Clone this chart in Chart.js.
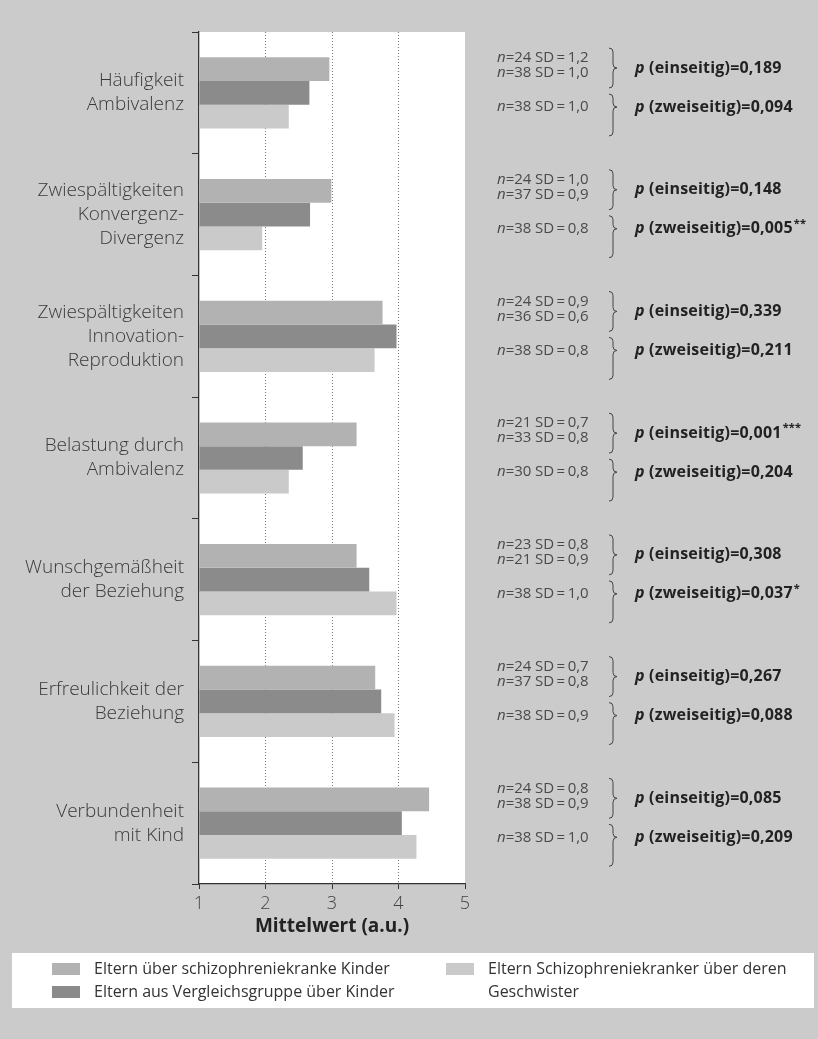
<!DOCTYPE html>
<html lang="de">
<head>
<meta charset="utf-8">
<title>Ambivalenz – Mittelwerte</title>
<script src="https://cdn.jsdelivr.net/npm/chart.js@4.4.1/dist/chart.umd.min.js"></script>
<style>
  html, body { margin: 0; padding: 0; background: #cbcbcb; }
</style>
</head>
<body>
<canvas id="chart" width="818" height="1039"></canvas>
<script>
// Kategorien (mehrzeilige Achsenbeschriftung)
const categories = [
  ['Häufigkeit', 'Ambivalenz'],
  ['Zwiespältigkeiten', 'Konvergenz-', 'Divergenz'],
  ['Zwiespältigkeiten', 'Innovation-', 'Reproduktion'],
  ['Belastung durch', 'Ambivalenz'],
  ['Wunschgemäßheit', 'der Beziehung'],
  ['Erfreulichkeit der', 'Beziehung'],
  ['Verbundenheit', 'mit Kind']
];

// Mittelwerte je Gruppe
const elternKinder = [2.96, 2.99, 3.76, 3.37, 3.37, 3.65, 4.46];
const vergleichKinder = [2.66, 2.67, 3.97, 2.56, 3.56, 3.74, 4.05];
const elternGeschwister = [2.35, 1.95, 3.64, 2.35, 3.97, 3.94, 4.27];

const xTicks = [1, 2, 3, 4, 5];

// n und SD je Gruppe
const nKinder = [24, 24, 24, 21, 23, 24, 24];
const sdKinder = ['1,2', '1,0', '0,9', '0,7', '0,8', '0,7', '0,8'];
const nVergleich = [38, 37, 36, 33, 21, 37, 38];
const sdVergleich = ['1,0', '0,9', '0,6', '0,8', '0,9', '0,8', '0,9'];
const nGeschwister = [38, 38, 38, 30, 38, 38, 38];
const sdGeschwister = ['1,0', '0,8', '0,8', '0,8', '1,0', '0,9', '1,0'];

// p-Werte
const pEinseitig = ['0,189', '0,148', '0,339', '0,001', '0,308', '0,267', '0,085'];
const starsEinseitig = ['', '', '', '***', '', '', ''];
const pZweiseitig = ['0,094', '0,005', '0,211', '0,204', '0,037', '0,088', '0,209'];
const starsZweiseitig = ['', '**', '', '', '*', '', ''];

const seriesNames = [
  'Eltern über schizophreniekranke Kinder',
  'Eltern aus Vergleichsgruppe über Kinder',
  'Eltern Schizophreniekranker über deren Geschwister'
];

const pageGray = '#cbcbcb';
const colors = ['#b2b2b2', '#8b8b8b', '#cacaca'];
const FONT = '"Open Sans", "DejaVu Sans", sans-serif';
const THIN = '\u2009';

function brace(ctx, x, top, tip, bottom) {
  const r = 4;
  ctx.beginPath();
  ctx.moveTo(x - r, top);
  ctx.quadraticCurveTo(x, top, x, top + r);
  ctx.lineTo(x, tip - r);
  ctx.quadraticCurveTo(x, tip, x + r, tip);
  ctx.quadraticCurveTo(x, tip, x, tip + r);
  ctx.lineTo(x, bottom - r);
  ctx.quadraticCurveTo(x, bottom, x - r, bottom);
  ctx.stroke();
}

function nLine(ctx, x, y, n, sd) {
  ctx.font = 'italic 15px ' + FONT;
  ctx.fillText('n', x, y);
  const w = ctx.measureText('n').width;
  ctx.font = '15px ' + FONT;
  ctx.fillText('=' + n, x + w, y);
  ctx.fillText('SD' + THIN + '=' + THIN + sd, x + 38, y);
}

function pLine(ctx, x, y, kind, val, stars) {
  ctx.letterSpacing = '0.2px';
  ctx.font = 'italic bold 16px ' + FONT;
  ctx.fillText('p', x, y);
  let w = ctx.measureText('p ').width;
  ctx.font = 'bold 16px ' + FONT;
  const txt = '(' + kind + ')=' + val;
  ctx.fillText(txt, x + w, y);
  w += ctx.measureText(txt).width;
  if (stars) {
    ctx.font = 'bold 11px ' + FONT;
    ctx.fillText(stars, x + w + 1, y - 5);
  }
  ctx.letterSpacing = '0px';
}

const backdrop = {
  id: 'backdrop',
  beforeDraw(chart) {
    const { ctx, chartArea: a } = chart;
    ctx.save();
    ctx.fillStyle = pageGray;
    ctx.fillRect(0, 0, chart.width, chart.height);
    ctx.fillStyle = '#ffffff';
    ctx.fillRect(a.left, a.top, a.right - a.left, a.bottom - a.top);
    ctx.restore();
  }
};

const notes = {
  id: 'notes',
  afterDraw(chart) {
    const { ctx } = chart;
    const y = chart.scales.y;
    const band = y.getPixelForValue(1) - y.getPixelForValue(0);
    ctx.save();
    ctx.textBaseline = 'middle';
    ctx.textAlign = 'left';
    categories.forEach((c, i) => {
      const top = y.getPixelForValue(i) - band / 2;
      ctx.fillStyle = '#4a4a4a';
      nLine(ctx, 497, top + 26, nKinder[i], sdKinder[i]);
      nLine(ctx, 497, top + 41, nVergleich[i], sdVergleich[i]);
      nLine(ctx, 497, top + 75, nGeschwister[i], sdGeschwister[i]);
      ctx.strokeStyle = '#444';
      ctx.lineWidth = 1;
      brace(ctx, 613, top + 16, top + 36, top + 56);
      brace(ctx, 613, top + 62, top + 75, top + 104);
      ctx.fillStyle = '#222';
      pLine(ctx, 635, top + 36, 'einseitig', pEinseitig[i], starsEinseitig[i]);
      pLine(ctx, 635, top + 75, 'zweiseitig', pZweiseitig[i], starsZweiseitig[i]);
    });

    // Legende
    ctx.fillStyle = '#ffffff';
    ctx.fillRect(12, 953, 802, 55);
    const ds = chart.data.datasets;
    const items = [
      { x: 52, y: 969, ds: 0, lines: [seriesNames[0]] },
      { x: 52, y: 992, ds: 1, lines: [seriesNames[1]] },
      { x: 446, y: 969, ds: 2, lines: ['Eltern Schizophreniekranker über deren', 'Geschwister'] }
    ];
    ctx.font = '16px ' + FONT;
    items.forEach(it => {
      ctx.fillStyle = ds[it.ds].backgroundColor;
      ctx.fillRect(it.x, it.y - 6, 28, 12);
      ctx.fillStyle = '#333';
      it.lines.forEach((t, k) => ctx.fillText(t, it.x + 42, it.y + k * 23));
    });
    ctx.restore();
  }
};

new Chart(document.getElementById('chart'), {
  type: 'bar',
  data: {
    labels: categories,
    datasets: [
      { label: seriesNames[0], data: elternKinder, backgroundColor: colors[0], base: 1 },
      { label: seriesNames[1], data: vergleichKinder, backgroundColor: colors[1], base: 1 },
      { label: seriesNames[2], data: elternGeschwister, backgroundColor: colors[2], base: 1 }
    ]
  },
  options: {
    indexAxis: 'y',
    responsive: false,
    animation: false,
    categoryPercentage: 0.585,
    barPercentage: 1,
    layout: { padding: { top: 32, right: 353, bottom: 99, left: 0 } },
    plugins: { legend: { display: false }, tooltip: { enabled: false } },
    scales: {
      x: {
        min: 1,
        max: 5,
        afterFit(s) { s.height = 56; },
        afterBuildTicks(s) { s.ticks = xTicks.map(v => ({ value: v })); },
        grid: {
          color: ctx => (ctx.tick && ctx.tick.value > 1 && ctx.tick.value < 5) ? '#7a7a7a' : 'rgba(0,0,0,0)',
          tickColor: '#333',
          tickBorderDash: [],
          tickLength: 5,
          lineWidth: 1
        },
        border: { display: true, color: '#333', width: 1.3, dash: [1, 2] },
        ticks: { color: '#444', padding: 4, font: { family: FONT, size: 18, weight: '300' } },
        title: {
          display: true,
          text: 'Mittelwert (a.u.)',
          color: '#222',
          padding: { top: 0, bottom: 2 },
          font: { family: FONT, size: 19, weight: 'bold' }
        }
      },
      y: {
        afterFit(s) { s.width = 199; },
        grid: { drawOnChartArea: false, offset: true, tickLength: 7, tickColor: '#333' },
        border: { display: true, color: '#333', width: 1.3 },
        ticks: {
          color: '#3a3a3a',
          padding: 8,
          font: { family: FONT, size: 19, weight: '300', lineHeight: 24 / 19 }
        }
      }
    }
  },
  plugins: [backdrop, notes]
});
</script>
</body>
</html>
